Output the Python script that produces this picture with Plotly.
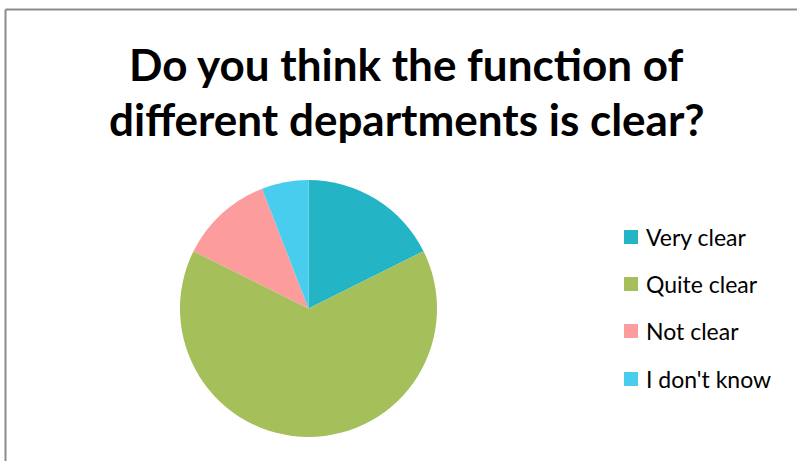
import plotly.graph_objects as go

labels = ["Very clear", "Quite clear", "Not clear", "I don't know"]
values = [3, 11, 2, 1]
colors = ["#23B5C5", "#A5BF5A", "#FD9C9C", "#48CDEE"]
title_lines = ["Do you think the function of", "different departments is clear?"]

W, H = 797, 461

fig = go.Figure()
fig.add_trace(go.Pie(
    labels=labels, values=values,
    marker=dict(colors=colors, line=dict(width=0)),
    sort=False, direction="clockwise", rotation=0,
    textinfo="none", hoverinfo="label+value+percent",
    showlegend=False,
    domain=dict(x=[180 / W, 437 / W], y=[(H - 437) / H, (H - 180) / H]),
))

shapes = [
    dict(type="line", xref="paper", yref="paper", x0=5.5 / W, x1=1.05, y0=1 - 9.5 / H, y1=1 - 9.5 / H,
         line=dict(color="#8C8C8C", width=2)),
    dict(type="line", xref="paper", yref="paper", x0=5.5 / W, x1=5.5 / W, y0=1 - 9.5 / H, y1=-0.05,
         line=dict(color="#8C8C8C", width=2)),
]
annotations = []
for line, yc in zip(title_lines, [64, 119]):
    annotations.append(dict(text=line, xref="paper", yref="paper", x=407 / W, y=(H - yc) / H,
                            xanchor="center", yanchor="middle", showarrow=False,
                            font=dict(family="Lato", size=44, color="#000000", weight="bold")))
leg_y = [237, 284, 331, 379]
for lab, col, yc in zip(labels, colors, leg_y):
    shapes.append(dict(type="rect", xref="paper", yref="paper",
                       x0=624 / W, x1=638 / W, y0=(H - yc - 7) / H, y1=(H - yc + 7) / H,
                       fillcolor=col, line=dict(width=0)))
    annotations.append(dict(text=lab, xref="paper", yref="paper", x=644 / W, y=(H - yc) / H,
                            xanchor="left", yanchor="middle", showarrow=False,
                            font=dict(family="Lato", size=23, color="#000000")))

fig.update_layout(
    width=W, height=H,
    margin=dict(l=0, r=0, t=0, b=0),
    paper_bgcolor="white", plot_bgcolor="white",
    shapes=shapes, annotations=annotations,
)
fig.write_html("out.html")
